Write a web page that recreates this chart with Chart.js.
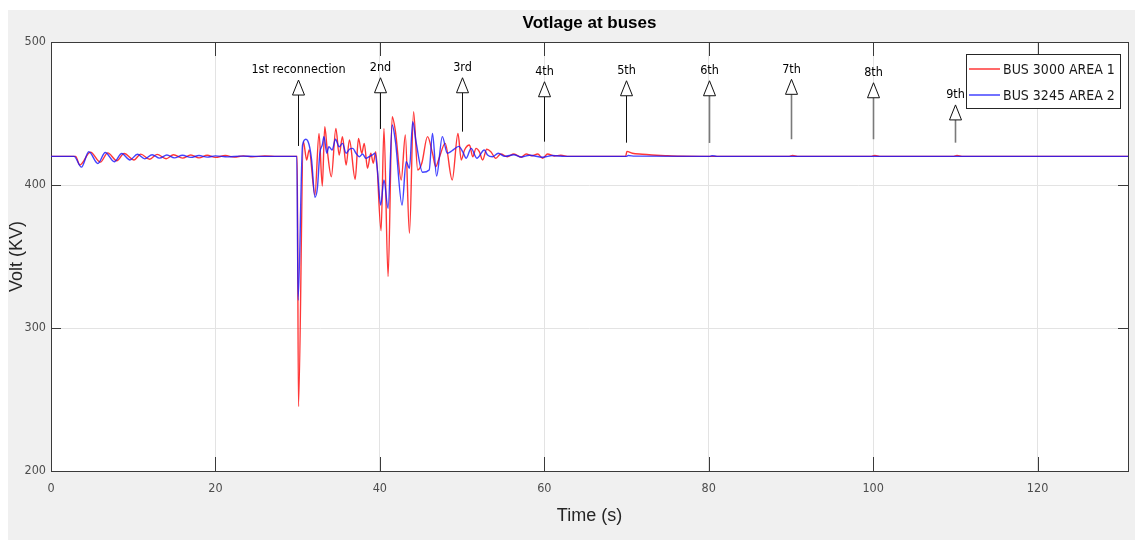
<!DOCTYPE html>
<html>
<head>
<meta charset="utf-8">
<title>Votlage at buses</title>
<script src="https://cdn.jsdelivr.net/npm/chart.js@4.4.0/dist/chart.umd.min.js"></script>
<style>
  html, body { margin: 0; padding: 0; background: #ffffff; }
  #wrap { width: 1135px; height: 540px; position: relative; }
</style>
</head>
<body>
<div id="wrap"><canvas id="volts" width="1135" height="540"></canvas></div>
<script>
// Bus 3000 (area 1) voltage, time in s / value in kV
const redTime = [0, 3.0, 3.5, 4.8, 6.0, 6.9, 8.0, 8.9, 10.1, 10.9, 12.0, 12.9, 14.0, 14.9, 16.0, 17.0, 18.0, 19.0, 20.0, 21.2, 22.3, 23.4, 24.5, 26.0, 27.5, 29.95,
  30.1, 30.7, 31.1, 31.4, 32.1, 32.6, 33.0, 33.3, 33.6, 34.1, 34.65, 35.05, 35.45, 35.9, 36.3, 37.0, 37.4, 37.8, 38.1, 38.5, 38.9, 39.2, 39.5,
  40.15, 40.5, 41.0, 41.5, 41.9, 42.6, 43.1, 43.6, 44.1, 44.6, 45.1, 45.8, 46.4, 46.8, 47.2, 47.95, 48.8, 49.5, 49.9, 50.3, 50.9, 51.3, 51.7,
  52.1, 52.5, 53.0, 53.5, 54.1, 54.7, 55.5, 56.3, 57.2, 57.8, 58.5, 59.2, 59.8, 60.4, 61.2, 62.0, 63.0, 69.9, 70.05, 70.7, 71.9, 73.1, 74.7,
  76.5, 80.0, 89.8, 90.2, 90.8, 99.8, 100.2, 100.8, 109.8, 110.2, 110.8, 131];
const redVolt = [420, 420, 414, 423, 416, 422.5, 417, 422, 417.5, 421.6, 418, 421.4, 418.4, 421.2, 418.8, 421, 419, 420.8, 419.3, 420.6, 419.5, 420.4, 419.7, 420.3, 420, 420,
  245, 430.3, 417.5, 424.5, 393, 436, 399.3, 440.8, 424.5, 405.8, 439.6, 421, 433.8, 414, 431.5, 404, 432.6, 422.2, 429.1, 411.7, 422.2, 415.2, 423.3,
  368, 439.6, 336, 447.8, 437.3, 403.5, 435, 366.2, 451.3, 410.5, 415.2, 433.8, 422.2, 412.8, 418.7, 429.1, 403.5, 436, 417.5, 424.5, 428, 419.8, 425.6,
  423.3, 417.5, 425, 423.3, 418.7, 421.7, 419.8, 421.7, 419.4, 421.7, 420.5, 421.7, 418.7, 421.7, 420.3, 420.8, 420, 420, 423.5, 422.2, 421.5, 421, 420.5,
  420.1, 420, 420, 420.6, 420, 420, 420.6, 420, 420, 420.6, 420, 420];

// Bus 3245 (area 2) voltage
const blueTime = [0, 2.8, 3.7, 4.6, 5.7, 6.6, 7.7, 8.6, 9.6, 10.5, 11.4, 12.3, 13.2, 14.1, 15.0, 16.0, 17.0, 18.0, 19.0, 20.0, 21.5, 23.0, 25.0, 29.9,
  30.05, 30.6, 31.0, 31.4, 31.7, 32.1, 32.4, 32.7, 33.0, 33.2, 33.55, 33.8, 34.2, 34.6, 35.05, 35.45, 35.9, 36.3, 36.7, 37.1, 37.5, 37.9, 38.3, 38.7, 39.1, 39.4, 39.7,
  40.1, 40.5, 41.0, 41.5, 41.9, 42.7, 43.2, 43.6, 44.0, 44.4, 45.2, 46.0, 46.4, 46.9, 47.6, 48.2, 48.8, 49.6, 50.1, 50.5, 51.1, 51.8, 52.7, 53.1, 53.7,
  54.4, 55.2, 56.3, 57.2, 58.2, 59.8, 61.0, 62.5, 70.0, 70.2, 71.0, 80.1, 80.4, 81.0, 131];
const blueVolt = [420, 420, 412.5, 423.2, 415, 422.7, 416.3, 422, 417.5, 421.5, 418.3, 421.2, 418.8, 421, 419, 420.8, 419.3, 420.6, 419.5, 420.4, 419.7, 420.2, 420, 420,
  319.4, 428, 432, 428, 417.5, 391.4, 397.7, 422.2, 428, 433.8, 422.2, 426.8, 424.5, 432, 426.8, 429.1, 422.2, 425, 425.6, 422.2, 419.8, 421.7, 418.7, 419.8, 421, 422.2, 410.5,
  386, 403.5, 383.7, 442, 430.3, 386, 416.3, 411.7, 444.3, 430.3, 408.9, 410.5, 436, 406.3, 433.8, 422.2, 424, 427, 423, 418.7, 425.6, 418.7, 424.5, 421, 419.8,
  422.2, 420, 421.2, 419.6, 420.8, 419.4, 420.6, 420, 420, 420.6, 420.2, 420, 420.5, 420, 420];

// reconnection markers: time, label, arrow tip and tail (kV)
const markTime = [30, 40, 50, 60, 70, 80, 90, 100, 110];
const markText = ['1st reconnection', '2nd', '3rd', '4th', '5th', '6th', '7th', '8th', '9th'];
const markTip = [473.4, 475, 475, 472.2, 472.9, 472.9, 473.9, 471.5, 456];
const markTail = [427.3, 439.2, 437.3, 430.3, 429.6, 429.4, 432, 432, 429.6];

const xTicks = [0, 20, 40, 60, 80, 100, 120];
const yTicks = [200, 300, 400, 500];

const toPoints = (t, v) => t.map((x, i) => ({ x: x, y: v[i] }));

const NARROW = "'Liberation Sans Narrow', 'Arial Narrow', 'DejaVu Sans Condensed', Arial, sans-serif";
const SANS = "'Liberation Sans', Arial, Helvetica, sans-serif";

// figure background, white axes and the axes box with inward ticks
const frame = {
  id: 'frame',
  beforeDraw(chart) {
    const ctx = chart.ctx;
    const a = chart.chartArea;
    ctx.save();
    ctx.fillStyle = '#f0f0f0';
    ctx.fillRect(8, 10, chart.width - 8, chart.height - 10);
    ctx.fillStyle = '#ffffff';
    ctx.fillRect(a.left, a.top, a.right - a.left, a.bottom - a.top);
    ctx.restore();
  },
  beforeDatasetsDraw(chart) {
    const ctx = chart.ctx;
    const a = chart.chartArea;
    const xs = chart.scales.x, ys = chart.scales.y;
    ctx.save();
    ctx.strokeStyle = '#3a3a3a';
    ctx.lineWidth = 1;
    ctx.beginPath();
    xTicks.forEach(t => {
      const px = Math.round(xs.getPixelForValue(t)) + 0.5;
      ctx.moveTo(px, a.top); ctx.lineTo(px, a.top + 14);
      ctx.moveTo(px, a.bottom); ctx.lineTo(px, a.bottom - 14);
    });
    yTicks.forEach(v => {
      const py = Math.round(ys.getPixelForValue(v)) + 0.5;
      ctx.moveTo(a.left, py); ctx.lineTo(a.left + 10, py);
      ctx.moveTo(a.right, py); ctx.lineTo(a.right - 10, py);
    });
    ctx.stroke();
    ctx.strokeRect(Math.round(a.left) + 0.5, Math.round(a.top) + 0.5,
      Math.round(a.right - a.left), Math.round(a.bottom - a.top));
    ctx.restore();
  }
};

// title, axis labels, reconnection arrows and the legend box
const labels = {
  id: 'labels',
  afterDraw(chart) {
    const ctx = chart.ctx;
    const a = chart.chartArea;
    const xs = chart.scales.x, ys = chart.scales.y;
    const cx = (a.left + a.right) / 2;
    ctx.save();
    ctx.textAlign = 'center';
    ctx.textBaseline = 'middle';

    ctx.fillStyle = '#000000';
    ctx.font = 'bold 17px ' + SANS;
    ctx.fillText('Votlage at buses', cx, 23);

    ctx.fillStyle = '#262626';
    ctx.font = '18px ' + SANS;
    ctx.fillText('Time (s)', cx, 516);
    ctx.save();
    ctx.translate(17, (a.top + a.bottom) / 2);
    ctx.rotate(-Math.PI / 2);
    ctx.fillText('Volt (KV)', 0, 0);
    ctx.restore();

    markTime.forEach((t, i) => {
      const px = Math.round(xs.getPixelForValue(t)) + 0.5;
      const tip = ys.getPixelForValue(markTip[i]);
      const tail = ys.getPixelForValue(markTail[i]);
      const base = tip + 15;
      ctx.strokeStyle = i < 5 ? '#111111' : '#7a7a7a';
      ctx.lineWidth = i < 5 ? 1 : 1.6;
      ctx.beginPath();
      ctx.moveTo(px, base);
      ctx.lineTo(px, tail);
      ctx.stroke();
      ctx.strokeStyle = '#111111';
      ctx.lineWidth = 1;
      ctx.fillStyle = '#ffffff';
      ctx.beginPath();
      ctx.moveTo(px, tip);
      ctx.lineTo(px + 6, base);
      ctx.lineTo(px - 6, base);
      ctx.closePath();
      ctx.fill();
      ctx.stroke();
      ctx.fillStyle = '#000000';
      ctx.font = '12.5px ' + NARROW;
      ctx.fillText(markText[i], px, tip - 10);
    });

    // legend
    const lx = 966, ly = 54, lw = 154, lh = 54;
    ctx.fillStyle = '#ffffff';
    ctx.fillRect(lx, ly, lw, lh);
    ctx.strokeStyle = '#262626';
    ctx.lineWidth = 1;
    ctx.strokeRect(lx + 0.5, ly + 0.5, lw, lh);
    chart.data.datasets.forEach((ds, i) => {
      const y = ly + 15 + i * 26;
      ctx.strokeStyle = ds.borderColor;
      ctx.lineWidth = 1.5;
      ctx.beginPath();
      ctx.moveTo(lx + 3, y);
      ctx.lineTo(lx + 34, y);
      ctx.stroke();
      ctx.fillStyle = '#1a1a1a';
      ctx.textAlign = 'left';
      ctx.font = '14px ' + NARROW;
      ctx.fillText(ds.label, lx + 37, y + 1);
    });
    ctx.restore();
  }
};

new Chart(document.getElementById('volts').getContext('2d'), {
  type: 'line',
  data: {
    datasets: [
      {
        label: 'BUS 3000 AREA 1',
        data: toPoints(redTime, redVolt),
        borderColor: 'rgba(255, 20, 20, 0.85)',
        borderWidth: 1.4,
        pointRadius: 0,
        cubicInterpolationMode: 'monotone',
        order: 1
      },
      {
        label: 'BUS 3245 AREA 2',
        data: toPoints(blueTime, blueVolt),
        borderColor: 'rgba(20, 20, 255, 0.8)',
        borderWidth: 1.4,
        pointRadius: 0,
        cubicInterpolationMode: 'monotone',
        order: 0
      }
    ]
  },
  options: {
    responsive: false,
    animation: false,
    events: [],
    layout: { padding: { left: 0, top: 42, right: 7, bottom: 0 } },
    plugins: { legend: { display: false }, tooltip: { enabled: false } },
    scales: {
      x: {
        type: 'linear',
        min: 0,
        max: 131,
        afterFit: s => { s.height = 69; },
        afterBuildTicks: s => { s.ticks = xTicks.map(v => ({ value: v })); },
        ticks: { color: '#4d4d4d', font: { family: NARROW, size: 12.5 }, padding: 10, maxRotation: 0 },
        grid: { color: '#e3e3e3', drawTicks: false },
        border: { display: false }
      },
      y: {
        min: 200,
        max: 500,
        afterFit: s => { s.width = 51; },
        afterBuildTicks: s => { s.ticks = yTicks.map(v => ({ value: v })); },
        ticks: { color: '#4d4d4d', font: { family: NARROW, size: 12.5 }, padding: 5 },
        grid: { color: '#e3e3e3', drawTicks: false },
        border: { display: false }
      }
    }
  },
  plugins: [frame, labels]
});
</script>
</body>
</html>
